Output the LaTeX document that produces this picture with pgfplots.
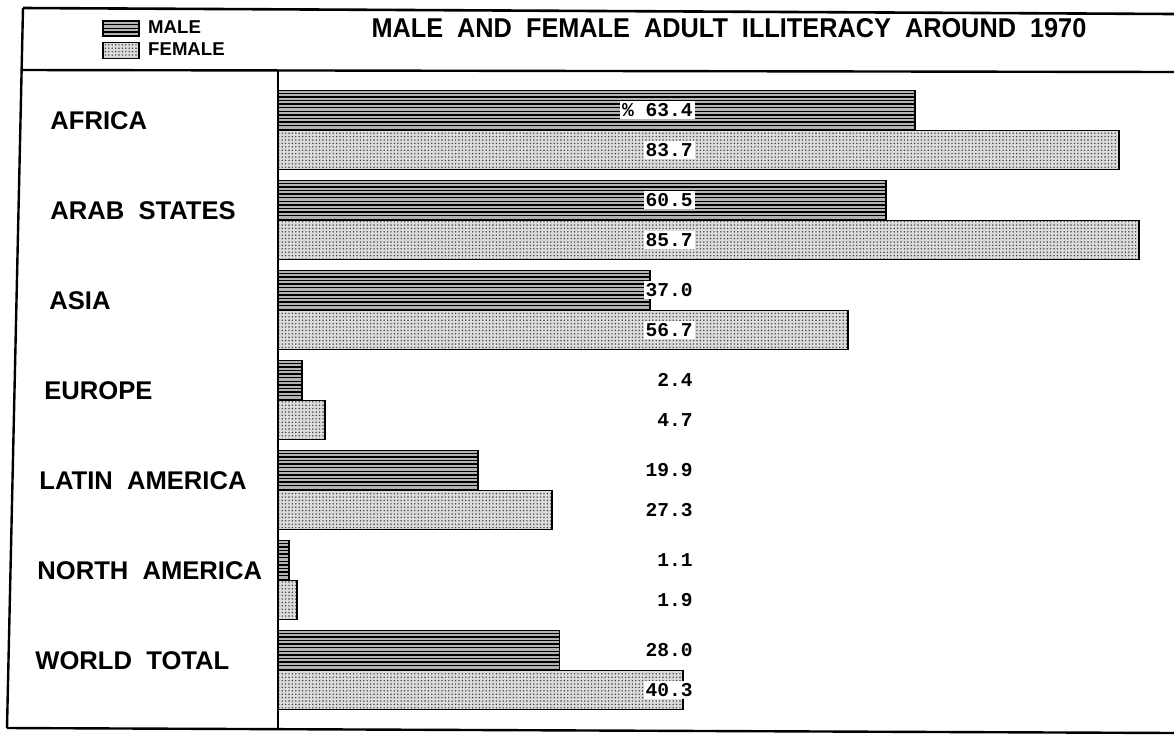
\documentclass[border=0pt]{standalone}
\usepackage{fontspec}
\setmainfont{Liberation Sans}
\newfontfamily\valfont{Liberation Mono}
\usepackage{pgfplots}
\pgfplotsset{compat=1.18}
\usetikzlibrary{patterns}
\pgfdeclarepatternformonly{denselines}{\pgfpointorigin}{\pgfqpoint{100pt}{1pt}}{\pgfqpoint{100pt}{1.8pt}}{%
  \pgfsetlinewidth{0.7pt}%
  \pgfpathmoveto{\pgfqpoint{0pt}{0.5pt}}%
  \pgfpathlineto{\pgfqpoint{100pt}{0.5pt}}%
  \pgfusepath{stroke}}
\pgfdeclarepatternformonly{densedots}{\pgfqpoint{-0.5pt}{-0.5pt}}{\pgfqpoint{0.5pt}{0.5pt}}{\pgfqpoint{1.7pt}{1.7pt}}{%
  \pgfpathcircle{\pgfpointorigin}{0.4pt}%
  \pgfusepath{fill}}
\pgfplotsset{
  malelegend/.style={legend image code/.code={\draw[##1] (0pt,-3.7pt) rectangle (18pt,3.7pt);}},
  femalelegend/.style={legend image code/.code={\draw[##1] (0pt,-4pt) rectangle (18pt,4pt);}},
}
\newcommand{\pct}{\%}
\begin{document}
\begin{tikzpicture}
\useasboundingbox (0,0) rectangle (587pt,-367.5pt);
\begin{axis}[
  at={(139pt,-35.5pt)}, anchor=north west,
  scale only axis, width=448pt, height=329.5pt,
  xmin=0, xmax=89.15,
  ymin=-0.656, ymax=6.667, y dir=reverse,
  axis line style={draw=none},
  xtick=\empty,
  ytick={0,...,6},
  yticklabels={\hspace*{7.5pt}AFRICA,\hspace*{7.5pt}ARAB~~STATES,\hspace*{7pt}ASIA,\hspace*{4.5pt}EUROPE,\hspace*{2pt}LATIN~~AMERICA,\hspace*{1pt}NORTH~~AMERICA,WORLD~~TOTAL},
  major tick length=0pt,
  yticklabel style={anchor=west, inner sep=0pt, xshift=-121.5pt, yshift=4.5pt, font=\fontsize{12.8}{14}\selectfont\bfseries},
  clip=false,
  title={\scalebox{0.93}[1]{MALE~~AND~~FEMALE~~ADULT~~ILLITERACY~~AROUND~~1970}},
  title style={at={(axis description cs:0.5033,1.047)}, anchor=center, inner sep=0pt, font=\fontsize{13.6}{15}\selectfont\bfseries},
  legend style={at={(axis description cs:-0.1964,1.0804)}, anchor=north west, draw=none, fill=none, inner sep=0pt, row sep=1.2pt, column sep=3pt, font=\fontsize{9.3}{10}\selectfont\bfseries, nodes={inner sep=1pt}},
  legend cell align=left,
]
\addplot[xbar, bar width=0.433, bar shift=-0.222, draw=black, line width=0.9pt, fill=black!30,
  postaction={pattern=denselines, pattern color=black}, malelegend]
  coordinates {(63.4,0) (60.5,1) (37.0,2) (2.4,3) (19.9,4) (1.1,5) (28.0,6)};
\addlegendentry{MALE}
\addplot[xbar, bar width=0.433, bar shift=0.222, draw=black, line width=0.9pt, fill=black!14,
  postaction={pattern=densedots, pattern color=black!75}, femalelegend]
  coordinates {(83.7,0) (85.7,1) (56.7,2) (4.7,3) (27.3,4) (1.9,5) (40.3,6)};
\addlegendentry{FEMALE}
\addplot[draw=none, mark=none, forget plot, nodes near coords, point meta=explicit symbolic,
  nodes near coords style={anchor=east, text=black, fill=white, inner sep=1pt, font=\valfont\bfseries\fontsize{9.8}{11}\selectfont}]
  coordinates {
  (41.5,-0.222) [\pct~63.4] (41.5,0.222) [83.7]
  (41.5,0.778) [60.5] (41.5,1.222) [85.7]
  (41.5,1.778) [37.0] (41.5,2.222) [56.7]
  (41.5,2.778) [2.4] (41.5,3.222) [4.7]
  (41.5,3.778) [19.9] (41.5,4.222) [27.3]
  (41.5,4.778) [1.1] (41.5,5.222) [1.9]
  (41.5,5.778) [28.0] (41.5,6.222) [40.3]};
\end{axis}
\draw[line width=1.3pt] (11.5pt,-4pt) -- (587pt,-7pt);
\draw[line width=1.2pt] (11pt,-35pt) -- (587pt,-36pt);
\draw[line width=1.2pt] (11.5pt,-4pt) -- (3.5pt,-364pt);
\draw[line width=1.2pt] (3.5pt,-364pt) -- (587pt,-366.5pt);
\draw[line width=1.2pt] (139pt,-35.5pt) -- (139pt,-365pt);
\end{tikzpicture}
\end{document}
